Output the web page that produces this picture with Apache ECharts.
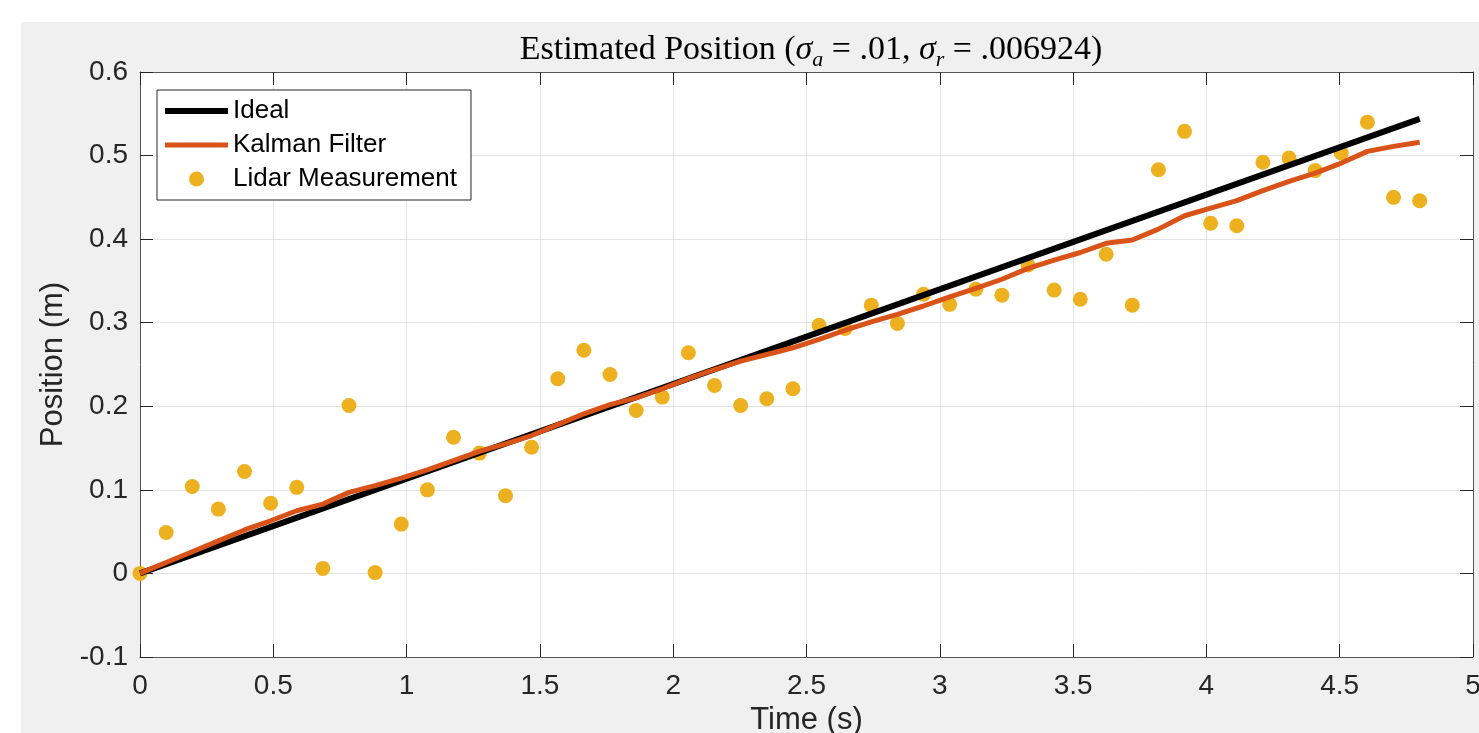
<!DOCTYPE html>
<html>
<head>
<meta charset="utf-8">
<title>Estimated Position</title>
<script src="https://cdn.jsdelivr.net/npm/echarts@6/dist/echarts.min.js"></script>
<style>
  html, body { margin: 0; padding: 0; background: #fff; }
  #EstPosition { width: 1479px; height: 733px; }
</style>
</head>
<body>
<div id="EstPosition"></div>
<script>
// 时间轴 (s)
const times = [
  0, 0.098, 0.196, 0.294, 0.392, 0.490, 0.588, 0.686, 0.784, 0.882,
  0.980, 1.078, 1.176, 1.273, 1.371, 1.469, 1.567, 1.665, 1.763, 1.861,
  1.959, 2.057, 2.155, 2.253, 2.351, 2.449, 2.547, 2.645, 2.743, 2.841,
  2.939, 3.037, 3.135, 3.233, 3.331, 3.429, 3.527, 3.624, 3.722, 3.820,
  3.918, 4.016, 4.114, 4.212, 4.310, 4.408, 4.506, 4.604, 4.702, 4.800
];
// lidar 测量值 (m)
const lidarPos = [
  0, 0.049, 0.104, 0.077, 0.122, 0.084, 0.103, 0.006, 0.201, 0.001,
  0.059, 0.100, 0.163, 0.144, 0.093, 0.151, 0.233, 0.267, 0.238, 0.195,
  0.211, 0.264, 0.225, 0.201, 0.209, 0.221, 0.297, 0.293, 0.321, 0.299,
  0.334, 0.322, 0.340, 0.333, 0.369, 0.339, 0.328, 0.382, 0.321, 0.483,
  0.529, 0.419, 0.416, 0.492, 0.497, 0.482, 0.503, 0.540, 0.450, 0.446
];
// kalman 估计值 (m)
const kalmanPos = [
  0, 0.013, 0.026, 0.039, 0.052, 0.063, 0.075, 0.083, 0.097, 0.105,
  0.114, 0.124, 0.135, 0.146, 0.155, 0.165, 0.178, 0.191, 0.202, 0.210,
  0.221, 0.233, 0.244, 0.254, 0.262, 0.270, 0.280, 0.291, 0.301, 0.310,
  0.320, 0.331, 0.341, 0.352, 0.365, 0.375, 0.384, 0.395, 0.399, 0.412,
  0.428, 0.437, 0.446, 0.458, 0.469, 0.479, 0.491, 0.505, 0.511, 0.516
];
// 理想直线 起点/终点
const idealTimes = [0, 4.8];
const idealPos = [0, 0.544];

const xTicks = [0, 0.5, 1, 1.5, 2, 2.5, 3, 3.5, 4, 4.5, 5];
const yTicks = [-0.1, 0, 0.1, 0.2, 0.3, 0.4, 0.5, 0.6];

const zip = (xs, ys) => xs.map((x, i) => [x, ys[i]]);
const fmt = (v) => String(+v.toFixed(2));

let myChart;

const axisColor = '#262626';
const frameColor = '#555';
const gridColor = '#e3e3e3';
const tickFont = 'Liberation Sans, Arial, sans-serif';
const serifFont = 'Liberation Serif, Times New Roman, serif';

function showEchart() {
  myChart = echarts.init(document.getElementById('EstPosition'), null, { renderer: 'canvas' });

  const xBase = {
    type: 'value',
    min: xTicks[0],
    max: xTicks[xTicks.length - 1],
    interval: 0.5,
    axisLine: { show: true, onZero: false, lineStyle: { color: frameColor, width: 1 } },
    axisTick: { show: true, inside: true, length: 13, lineStyle: { color: axisColor, width: 1 } },
  };
  const yBase = {
    type: 'value',
    min: yTicks[0],
    max: yTicks[yTicks.length - 1],
    interval: 0.1,
    axisLine: { show: true, onZero: false, lineStyle: { color: frameColor, width: 1 } },
    axisTick: { show: true, inside: true, length: 13, lineStyle: { color: axisColor, width: 1 } },
  };

  const option = {
    backgroundColor: '#ffffff',
    animation: false,
    graphic: [
      {
        type: 'rect',
        z: -10,
        silent: true,
        shape: { x: 21, y: 22, width: 1479 - 21, height: 733 - 22 },
        style: { fill: '#f0f0f0' },
      },
    ],
    title: {
      text: 'Estimated Position ({s|σ}{sub|a} = .01, {s|σ}{sub|r} = .006924)',
      left: 806,
      textAlign: 'center',
      top: 24,
      textStyle: {
        fontFamily: serifFont,
        fontSize: 34,
        fontWeight: 'normal',
        color: '#000',
        lineHeight: 42,
        rich: {
          s: {
            fontFamily: serifFont,
            fontSize: 34,
            fontStyle: 'italic',
            color: '#000',
          },
          sub: {
            fontFamily: serifFont,
            fontSize: 22,
            fontStyle: 'italic',
            color: '#000',
            lineHeight: 22,
            verticalAlign: 'bottom',
          },
        },
      },
    },
    legend: {
      left: 157,
      top: 90,
      orient: 'vertical',
      padding: [8, 14, 8, 8],
      itemWidth: 63,
      itemHeight: 15,
      itemGap: 8,
      itemTextGap: 7,
      backgroundColor: '#ffffff',
      borderColor: axisColor,
      borderWidth: 1,
      borderRadius: 0,
      textStyle: { fontFamily: tickFont, fontSize: 26, color: '#000' },
      data: [
        { name: 'Ideal', icon: 'path://M0,0L63,0L63,6L0,6Z' },
        { name: 'Kalman Filter', icon: 'path://M0,0L63,0L63,5L0,5Z' },
        { name: 'Lidar Measurement', icon: 'circle' },
      ],
    },
    grid: {
      left: 140,
      right: 6,
      top: 72,
      bottom: 76,
      outerBoundsMode: 'none',
      containLabel: false,
      show: true,
      backgroundColor: '#ffffff',
      borderWidth: 0,
    },
    xAxis: [
      Object.assign({}, xBase, {
        position: 'bottom',
        name: 'Time (s)',
        nameLocation: 'middle',
        nameGap: 48,
        nameTextStyle: { fontFamily: tickFont, fontSize: 31, color: axisColor },
        axisLabel: {
          margin: 15,
          fontFamily: tickFont,
          fontSize: 28,
          color: axisColor,
          formatter: fmt,
        },
        splitLine: { show: true, lineStyle: { color: gridColor, width: 1 } },
      }),
      Object.assign({}, xBase, {
        position: 'top',
        axisLabel: { show: false },
        splitLine: { show: false },
      }),
    ],
    yAxis: [
      Object.assign({}, yBase, {
        position: 'left',
        name: 'Position (m)',
        nameLocation: 'middle',
        nameGap: 70,
        nameTextStyle: { fontFamily: tickFont, fontSize: 31, color: axisColor },
        axisLabel: {
          margin: 12,
          fontFamily: tickFont,
          fontSize: 28,
          color: axisColor,
          formatter: fmt,
        },
        splitLine: { show: true, lineStyle: { color: gridColor, width: 1 } },
      }),
      Object.assign({}, yBase, {
        position: 'right',
        axisLabel: { show: false },
        splitLine: { show: false },
      }),
    ],
    series: [
      {
        name: 'Ideal',
        type: 'line',
        xAxisIndex: 0,
        yAxisIndex: 0,
        showSymbol: false,
        symbol: 'none',
        lineStyle: { color: '#000000', width: 6 },
        itemStyle: { color: '#000000' },
        data: zip(idealTimes, idealPos),
      },
      {
        name: 'Kalman Filter',
        type: 'line',
        xAxisIndex: 0,
        yAxisIndex: 0,
        showSymbol: false,
        symbol: 'none',
        lineStyle: { color: '#D95319', width: 5 },
        itemStyle: { color: '#D95319' },
        data: zip(times, kalmanPos),
      },
      {
        name: 'Lidar Measurement',
        type: 'scatter',
        xAxisIndex: 0,
        yAxisIndex: 0,
        symbol: 'circle',
        symbolSize: 15,
        itemStyle: { color: '#EDB120', opacity: 1 },
        data: zip(times, lidarPos),
      },
    ],
  };
  myChart.setOption(option);
}

showEchart();
</script>
</body>
</html>
